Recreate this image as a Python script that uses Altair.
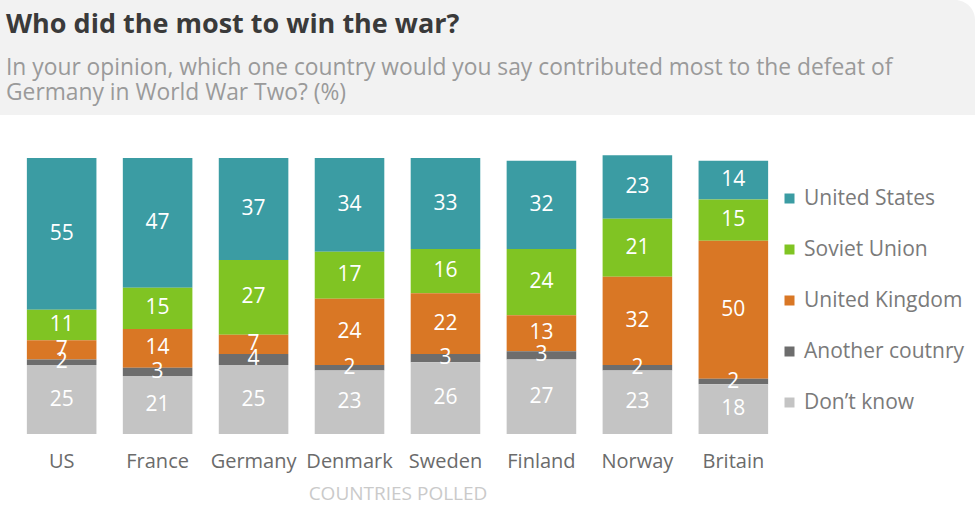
import altair as alt
import pandas as pd

title_text = "Who did the most to win the war?"
subtitle_lines = [
    "In your opinion, which one country would you say contributed most to the defeat of",
    "Germany in World War Two? (%)",
]
axis_title = "COUNTRIES POLLED"

countries = ["US", "France", "Germany", "Denmark", "Sweden", "Finland", "Norway", "Britain"]
answers = ["United States", "Soviet Union", "United Kingdom", "Another coutnry", "Don\u2019t know"]
united_states = [55, 47, 37, 34, 33, 32, 23, 14]
soviet_union = [11, 15, 27, 17, 16, 24, 21, 15]
united_kingdom = [7, 14, 7, 24, 22, 13, 32, 50]
another_country = [2, 3, 4, 2, 3, 3, 2, 2]
dont_know = [25, 21, 25, 23, 26, 27, 23, 18]
colors = ["#3b9ca3", "#80c423", "#d97725", "#6d6d6d", "#c4c4c4"]

series = [united_states, soviet_union, united_kingdom, another_country, dont_know]
rows = []
for ai, (ans, vals) in enumerate(zip(answers, series)):
    for c, v in zip(countries, vals):
        rows.append({"country": c, "answer": ans, "value": v, "ord": len(answers) - 1 - ai})
df = pd.DataFrame(rows)

FONT = "Open Sans"

# ---------- header ----------
title_df = pd.DataFrame({"t": [title_text]})
sub_df1 = pd.DataFrame({"t": [subtitle_lines[0]]})
sub_df2 = pd.DataFrame({"t": [subtitle_lines[1]]})

bg = alt.Chart(title_df).mark_rect(color="#f2f2f2", cornerRadiusTopRight=20).encode(
    x=alt.value(0), x2=alt.value(975), y=alt.value(0), y2=alt.value(115)
)
t1 = alt.Chart(title_df).mark_text(
    align="left", baseline="alphabetic", font=FONT, fontSize=27, fontWeight="bold", color="#3a3a3a"
).encode(x=alt.value(6), y=alt.value(33), text="t:N")
t2 = alt.Chart(sub_df1).mark_text(
    align="left", baseline="alphabetic", font=FONT, fontSize=22.8, color="#9a9a9a"
).encode(x=alt.value(6), y=alt.value(75), text="t:N")
t3 = alt.Chart(sub_df2).mark_text(
    align="left", baseline="alphabetic", font=FONT, fontSize=22.8, color="#9a9a9a"
).encode(x=alt.value(6), y=alt.value(100), text="t:N")

header = alt.layer(bg, t1, t2, t3).properties(width=975, height=115)

# ---------- bars ----------
base = alt.Chart(df).transform_stack(
    stack="value", groupby=["country"], as_=["y0", "y1"],
    sort=[alt.SortField("ord", order="ascending")]
).transform_calculate(mid="(datum.y0 + datum.y1) / 2")

xenc = alt.X(
    "country:N", sort=countries,
    scale=alt.Scale(paddingInner=0.275, paddingOuter=0.28),
    axis=alt.Axis(
        title=axis_title, labelAngle=0, domain=False, ticks=False, grid=False,
        labelFont=FONT, labelFontSize=20, labelColor="#6b6b6b", labelPadding=17,
        titleFont=FONT, titleFontSize=19, titleFontWeight="normal", titleColor="#cacaca",
        titlePadding=13,
    ),
)

bars = base.mark_bar().encode(
    x=xenc,
    y=alt.Y("y0:Q", scale=alt.Scale(domain=[0, 100]), axis=None),
    y2="y1:Q",
    color=alt.Color(
        "answer:N",
        scale=alt.Scale(domain=answers, range=colors),
        legend=alt.Legend(
            title=None, orient="none", legendX=779, legendY=188, padding=0,
            symbolType="square", symbolSize=100, symbolStrokeWidth=0,
            labelFont=FONT, labelFontSize=21, labelColor="#7a7a7a", labelLimit=0,
            rowPadding=29, labelOffset=4,
        ),
    ),
)

labels = base.mark_text(color="white", font=FONT, fontSize=21, baseline="middle").encode(
    x=alt.X("country:N", sort=countries),
    y=alt.Y("mid:Q"),
    text="value:Q",
)

main = alt.layer(bars, labels).properties(width=795, height=276)

chart = alt.vconcat(header, main, spacing=40).properties(
    padding=0, background="white"
).configure_view(strokeWidth=0)

chart.save("out.html", embed_options={"renderer": "svg", "actions": False})
